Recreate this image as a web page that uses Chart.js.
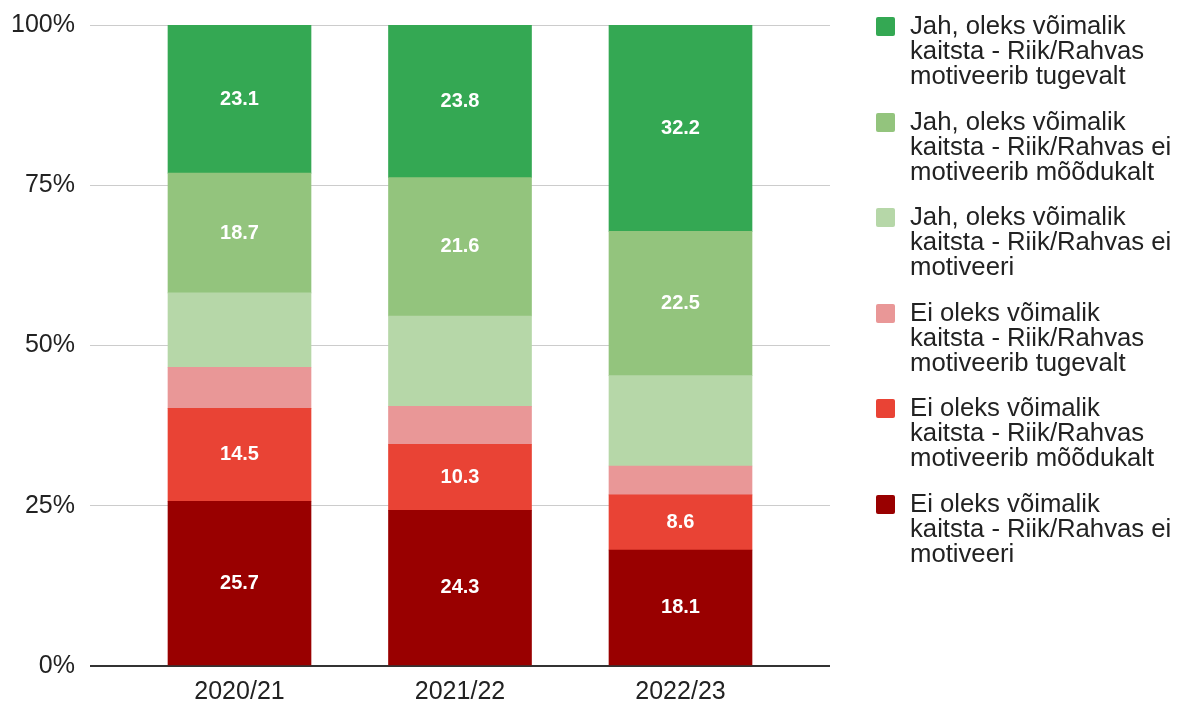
<!DOCTYPE html>
<html>
<head>
<meta charset="utf-8">
<script src="https://cdn.jsdelivr.net/npm/chart.js@4/dist/chart.umd.min.js"></script>
<style>
  body { margin: 0; background: #fff; }
  #wrap { position: relative; width: 1192px; height: 704px; }
  #legend { position: absolute; left: 876px; top: 13px; font-family: "Liberation Sans", Arial, sans-serif; font-size: 25.7px; line-height: 25px; color: #222; }
  .item { position: relative; height: 95.5px; padding-left: 34px; box-sizing: border-box; }
  .box { position: absolute; left: 0; top: 4px; width: 19px; height: 19px; border-radius: 2px; }
</style>
</head>
<body>
<div id="wrap">
  <canvas id="chart" width="1192" height="704"></canvas>
  <div id="legend"></div>
</div>
<script>
// aastad ja seeriad (alt üles)
const years = ['2020/21', '2021/22', '2022/23'];
const yTicks = [0, 25, 50, 75, 100];

const seriesNames = [
    ['Ei oleks võimalik', 'kaitsta - Riik/Rahvas ei', 'motiveeri'],
    ['Ei oleks võimalik', 'kaitsta - Riik/Rahvas', 'motiveerib mõõdukalt'],
    ['Ei oleks võimalik', 'kaitsta - Riik/Rahvas', 'motiveerib tugevalt'],
    ['Jah, oleks võimalik', 'kaitsta - Riik/Rahvas ei', 'motiveeri'],
    ['Jah, oleks võimalik', 'kaitsta - Riik/Rahvas ei', 'motiveerib mõõdukalt'],
    ['Jah, oleks võimalik', 'kaitsta - Riik/Rahvas', 'motiveerib tugevalt']
];

const eiMotiveeri = [25.7, 24.3, 18.1];
const eiMoodukalt = [14.5, 10.3, 8.6];
const eiTugevalt = [6.4, 5.9, 4.5];
const jahEiMotiveeri = [11.6, 14.1, 14.1];
const jahMoodukalt = [18.7, 21.6, 22.5];
const jahTugevalt = [23.1, 23.8, 32.2];

const seriesValues = [eiMotiveeri, eiMoodukalt, eiTugevalt, jahEiMotiveeri, jahMoodukalt, jahTugevalt];
const colors = ['#990000', '#e94335', '#e99797', '#b6d7a8', '#93c47d', '#34a853'];
const showLabels = [true, true, false, false, true, true];

Chart.defaults.font.family = '"Liberation Sans", Arial, sans-serif';

const datasets = seriesValues.map((vals, i) => ({
    label: seriesNames[i].join(' '),
    data: vals.map((v, j) => ({ x: j, y: v })),
    backgroundColor: colors[i],
    borderWidth: 0,
    barThickness: 143,
    showLabel: showLabels[i]
}));

// väärtused tulpade sisse
const barLabels = {
    id: 'barLabels',
    afterDatasetsDraw(chart) {
        const ctx = chart.ctx;
        ctx.save();
        ctx.fillStyle = '#fff';
        ctx.font = 'bold 20px "Liberation Sans", Arial, sans-serif';
        ctx.textAlign = 'center';
        ctx.textBaseline = 'middle';
        chart.data.datasets.forEach((ds, i) => {
            if (!ds.showLabel) return;
            chart.getDatasetMeta(i).data.forEach((bar, j) => {
                const p = bar.getProps(['x', 'y', 'base'], true);
                ctx.fillText(ds.data[j].y.toFixed(1), p.x, (p.y + p.base) / 2);
            });
        });
        ctx.restore();
    }
};

new Chart(document.getElementById('chart'), {
    type: 'bar',
    data: { datasets: datasets },
    options: {
        responsive: false,
        animation: false,
        layout: { padding: { top: 25, right: 362, bottom: 0, left: 0 } },
        plugins: {
            legend: { display: false },
            tooltip: { enabled: false }
        },
        scales: {
            x: {
                type: 'linear',
                stacked: true,
                offset: false,
                min: -0.678,
                max: 2.678,
                afterFit: (scale) => { scale.height = 38; },
                grid: { display: false },
                border: { display: false },
                ticks: {
                    stepSize: 1,
                    includeBounds: false,
                    padding: 3,
                    color: '#222',
                    font: { size: 25 },
                    callback: (v) => years[v] ?? ''
                }
            },
            y: {
                stacked: true,
                min: 0,
                max: 100,
                afterFit: (scale) => {
                    scale.width = 90;
                    scale.paddingTop = 0;
                    scale.paddingBottom = 0;
                },
                afterBuildTicks: (scale) => { scale.ticks = yTicks.map(v => ({ value: v })); },
                border: { display: false },
                grid: {
                    drawTicks: false,
                    color: (c) => c.tick && c.tick.value === 0 ? '#333' : '#cccccc',
                    lineWidth: (c) => c.tick && c.tick.value === 0 ? 2 : 1
                },
                ticks: {
                    padding: 15,
                    color: '#222',
                    font: { size: 25 },
                    callback: (v) => v + '%'
                }
            }
        }
    },
    plugins: [barLabels]
});

// legend paremale, ülevalt alla
const legend = document.getElementById('legend');
for (let i = seriesNames.length - 1; i >= 0; i--) {
    const item = document.createElement('div');
    item.className = 'item';
    const box = document.createElement('div');
    box.className = 'box';
    box.style.background = colors[i];
    item.appendChild(box);
    seriesNames[i].forEach(line => {
        const d = document.createElement('div');
        d.textContent = line;
        item.appendChild(d);
    });
    legend.appendChild(item);
}
</script>
</body>
</html>
